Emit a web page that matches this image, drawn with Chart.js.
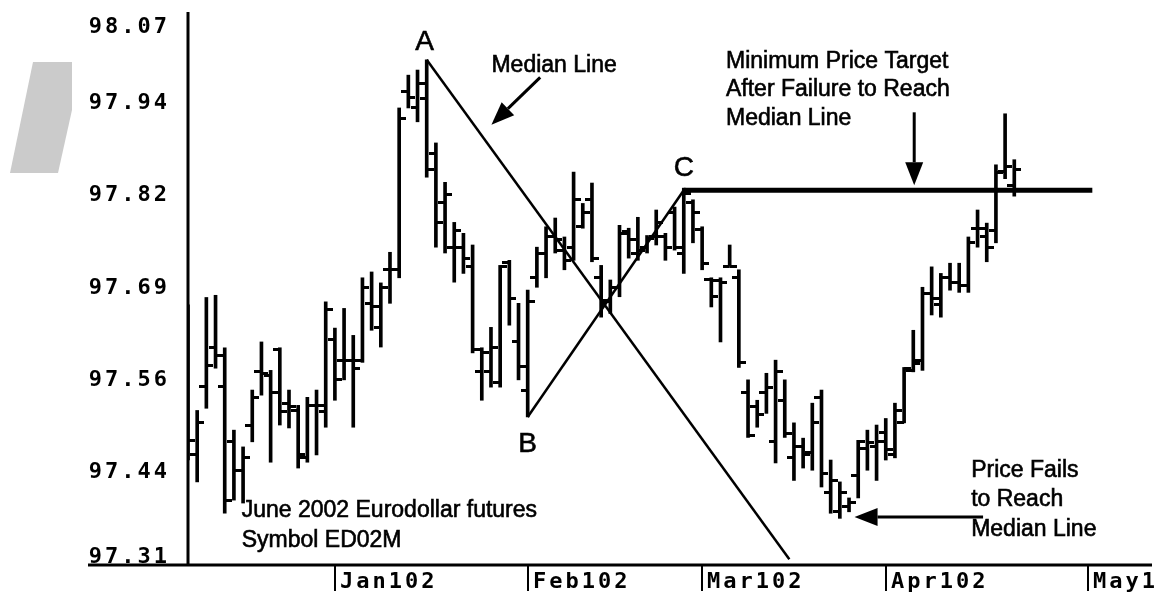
<!DOCTYPE html>
<html>
<head>
<meta charset="utf-8">
<script src="https://cdn.jsdelivr.net/npm/chart.js@4.4.1/dist/chart.umd.min.js"></script>
<style>
  html, body { margin: 0; padding: 0; background: #fff; }
</style>
</head>
<body>
<canvas id="edChart" width="1157" height="595"></canvas>
<script>
// June 2002 Eurodollar futures, daily bars from mid Dec 2001 (index = trading day)
const opens = [
  97.632, 97.461, 97.555, 97.608, 97.555, 97.479, 97.440, 97.502, 97.575, 97.570,
  97.605, 97.532, 97.522, 97.458, 97.529, 97.520, 97.619, 97.591, 97.591, 97.590,
  97.669, 97.636, 97.715, 97.715, 97.960, 97.938, 97.950, 97.875, 97.807, 97.746,
  97.745, 97.719, 97.575, 97.575, 97.561, 97.725, 97.616, 97.550, 97.704, 97.738,
  97.760, 97.742, 97.746, 97.774, 97.811, 97.704, 97.671, 97.691, 97.767, 97.738,
  97.746, 97.760, 97.760, 97.794, 97.738, 97.807, 97.770, 97.701, 97.700, 97.720,
  97.704, 97.546, 97.527, 97.547, 97.479, 97.536, 97.458, 97.472, 97.464, 97.540,
  97.409, 97.383, 97.390, 97.433, 97.470, 97.472, 97.492, 97.461, 97.506, 97.577,
  97.591, 97.683, 97.667, 97.704, 97.697, 97.694, 97.772, 97.760, 97.769, 97.850,
  97.831
];
const highs = [
  97.667, 97.522, 97.677, 97.680, 97.608, 97.495, 97.472, 97.550, 97.616, 97.577,
  97.608, 97.550, 97.529, 97.540, 97.550, 97.671, 97.635, 97.662, 97.625, 97.704,
  97.712, 97.697, 97.739, 97.937, 97.982, 97.989, 98.003, 97.889, 97.835, 97.780,
  97.765, 97.749, 97.608, 97.636, 97.721, 97.728, 97.669, 97.687, 97.746, 97.774,
  97.786, 97.760, 97.849, 97.806, 97.834, 97.721, 97.701, 97.776, 97.772, 97.787,
  97.762, 97.797, 97.765, 97.801, 97.827, 97.811, 97.774, 97.704, 97.704, 97.749,
  97.715, 97.564, 97.536, 97.573, 97.591, 97.564, 97.505, 97.484, 97.532, 97.550,
  97.454, 97.424, 97.402, 97.481, 97.495, 97.502, 97.511, 97.532, 97.581, 97.632,
  97.691, 97.719, 97.710, 97.724, 97.724, 97.760, 97.797, 97.779, 97.859, 97.929,
  97.866
];
const lows = [
  97.454, 97.424, 97.525, 97.580, 97.381, 97.399, 97.395, 97.479, 97.543, 97.451,
  97.502, 97.498, 97.443, 97.451, 97.461, 97.499, 97.536, 97.564, 97.499, 97.588,
  97.632, 97.609, 97.669, 97.704, 97.937, 97.918, 97.842, 97.746, 97.738, 97.698,
  97.710, 97.601, 97.536, 97.554, 97.554, 97.639, 97.564, 97.513, 97.691, 97.704,
  97.738, 97.715, 97.728, 97.772, 97.726, 97.650, 97.655, 97.678, 97.731, 97.728,
  97.738, 97.749, 97.728, 97.742, 97.710, 97.752, 97.715, 97.664, 97.616, 97.720,
  97.581, 97.485, 97.499, 97.518, 97.450, 97.485, 97.426, 97.443, 97.440, 97.417,
  97.381, 97.374, 97.383, 97.402, 97.440, 97.426, 97.454, 97.457, 97.505, 97.575,
  97.577, 97.653, 97.650, 97.687, 97.684, 97.684, 97.746, 97.726, 97.752, 97.840,
  97.816
];
const closes = [
  97.481, 97.505, 97.583, 97.597, 97.399, 97.440, 97.458, 97.540, 97.573, 97.547,
  97.520, 97.527, 97.461, 97.529, 97.529, 97.660, 97.564, 97.591, 97.580, 97.691,
  97.664, 97.691, 97.715, 97.923, 97.952, 97.971, 97.852, 97.780, 97.818, 97.769,
  97.731, 97.605, 97.601, 97.608, 97.719, 97.676, 97.582, 97.671, 97.738, 97.760,
  97.756, 97.728, 97.811, 97.793, 97.731, 97.673, 97.691, 97.765, 97.756, 97.742,
  97.758, 97.780, 97.746, 97.746, 97.820, 97.793, 97.724, 97.678, 97.698, 97.720,
  97.588, 97.488, 97.516, 97.554, 97.575, 97.491, 97.472, 97.461, 97.506, 97.436,
  97.426, 97.409, 97.396, 97.479, 97.478, 97.480, 97.468, 97.522, 97.580, 97.587,
  97.683, 97.676, 97.705, 97.698, 97.694, 97.752, 97.772, 97.746, 97.848, 97.857,
  97.852
];

const monthStarts = [16, 37, 56, 76, 98];
const monthLabels = ['Jan102', 'Feb102', 'Mar102', 'Apr102', 'May102'];
const yTickValues = [97.31, 97.4367, 97.5633, 97.69, 97.8167, 97.9433, 98.07];
const yTickLabels = ['97.31', '97.44', '97.56', '97.69', '97.82', '97.94', '98.07'];

// pitchfork pivots (bar index, price)
const pivotA = {x: 26, y: 98.003};
const pivotB = {x: 37, y: 97.513};
const pivotC = {x: 54, y: 97.824};
const medianEnd = {x: 65.5, y: 97.318};
const targetEnd = {x: 98.5, y: 97.824};

// notes: [text, x, y] in bar index / price, left aligned
const notes = [
  ['Median Line', 33.05, 97.995],
  ['Minimum Price Target', 58.6, 98.001],
  ['After Failure to Reach', 58.6, 97.962],
  ['Median Line', 58.6, 97.922],
  ['Price Fails', 85.3, 97.440],
  ['to Reach', 85.3, 97.399],
  ['Median Line', 85.3, 97.358],
  ['June 2002 Eurodollar futures', 5.85, 97.385],
  ['Symbol ED02M', 5.85, 97.344]
];
// arrows: from -> tip
const arrows = [
  [{x: 38.36, y: 97.979}, {x: 33.05, y: 97.914}],
  [{x: 79.1, y: 97.931}, {x: 79.1, y: 97.831}],
  [{x: 86.6, y: 97.376}, {x: 72.6, y: 97.376}]
];

function tickImage(side) {
  const c = document.createElement('canvas');
  c.width = 14; c.height = 3;
  const g = c.getContext('2d');
  g.fillStyle = '#000';
  g.fillRect(side === 'left' ? 0 : 7, 0, 7, 3);
  return c;
}

const monoFont = 'bold 22px "DejaVu Sans Mono"';
const noteFont = '23px "Liberation Sans", Arial, sans-serif';

function inkText(ctx, text, x, y) {
  ctx.fillText(text, x, y);
  ctx.strokeText(text, x, y);
}

const paperPlugin = {
  id: 'paper',
  beforeDraw(chart) {
    const ctx = chart.ctx;
    ctx.save();
    ctx.fillStyle = '#fff';
    ctx.fillRect(0, 0, chart.width, chart.height);
    // faded logo remnant at the left
    ctx.fillStyle = '#cbcbcb';
    ctx.beginPath();
    ctx.moveTo(10, 173); ctx.lineTo(33, 62); ctx.lineTo(72, 62);
    ctx.lineTo(72, 110); ctx.lineTo(58, 173);
    ctx.closePath();
    ctx.fill();
    ctx.restore();
  },
  afterDatasetsDraw(chart) {
    const ctx = chart.ctx;
    const xs = chart.scales.x, ys = chart.scales.y;
    const px = v => xs.getPixelForValue(v);
    const py = v => ys.getPixelForValue(v);
    ctx.save();
    ctx.fillStyle = '#000';
    ctx.strokeStyle = '#000';
    ctx.lineWidth = 0.6;

    // pivot letters
    ctx.font = '28px "Liberation Sans", Arial, sans-serif';
    ctx.textAlign = 'center';
    ctx.textBaseline = 'middle';
    inkText(ctx, 'A', px(pivotA.x) - 2, py(pivotA.y) - 18);
    inkText(ctx, 'B', px(pivotB.x), py(pivotB.y) + 27);
    inkText(ctx, 'C', px(pivotC.x), py(pivotC.y) - 22);

    ctx.font = noteFont;
    ctx.textAlign = 'left';
    notes.forEach(n => inkText(ctx, n[0], px(n[1]), py(n[2])));

    ctx.lineWidth = 3;
    arrows.forEach(a => {
      const x1 = px(a[0].x), y1 = py(a[0].y), x2 = px(a[1].x), y2 = py(a[1].y);
      const ang = Math.atan2(y2 - y1, x2 - x1);
      const len = 23, half = 9;
      const bx = x2 - len * Math.cos(ang), by = y2 - len * Math.sin(ang);
      ctx.beginPath();
      ctx.moveTo(x1, y1); ctx.lineTo(bx, by);
      ctx.stroke();
      ctx.beginPath();
      ctx.moveTo(x2, y2);
      ctx.lineTo(bx + half * Math.sin(ang), by - half * Math.cos(ang));
      ctx.lineTo(bx - half * Math.sin(ang), by + half * Math.cos(ang));
      ctx.closePath();
      ctx.fill();
    });
    ctx.restore();
  },
  afterDraw(chart) {
    const ctx = chart.ctx;
    const {left, right, top, bottom} = chart.chartArea;
    const xs = chart.scales.x, ys = chart.scales.y;
    ctx.save();
    ctx.strokeStyle = '#000';
    ctx.fillStyle = '#000';
    ctx.lineWidth = 3;
    ctx.beginPath(); ctx.moveTo(left, top + 1); ctx.lineTo(left, bottom); ctx.stroke();
    ctx.beginPath(); ctx.moveTo(88, bottom); ctx.lineTo(right, bottom); ctx.stroke();

    ctx.font = monoFont;
    ctx.letterSpacing = '3px';
    ctx.textAlign = 'right';
    ctx.textBaseline = 'middle';
    yTickValues.forEach((v, i) => {
      const y = Math.min(Math.max(ys.getPixelForValue(v), top + 16), bottom - 8);
      ctx.fillText(yTickLabels[i], left - 18, y);
    });

    ctx.textAlign = 'left';
    ctx.lineWidth = 2;
    monthStarts.forEach((v, i) => {
      const x = Math.round(xs.getPixelForValue(v));
      ctx.beginPath(); ctx.moveTo(x, bottom); ctx.lineTo(x, bottom + 26); ctx.stroke();
      ctx.fillText(monthLabels[i], x + 5, bottom + 17);
    });
    ctx.restore();
  }
};

const ctx = document.getElementById('edChart').getContext('2d');

new Chart(ctx, {
  type: 'bar',
  data: {
    datasets: [
      {
        type: 'bar',
        data: lows.map((l, i) => ({x: i, y: [l, highs[i]]})),
        backgroundColor: '#000',
        borderWidth: 0,
        barThickness: 3,
        grouped: false,
        order: 3
      },
      {
        type: 'line',
        data: opens.map((o, i) => ({x: i, y: o})),
        showLine: false,
        pointStyle: tickImage('left'),
        pointRadius: 3,
        order: 2
      },
      {
        type: 'line',
        data: closes.map((c, i) => ({x: i, y: c})),
        showLine: false,
        pointStyle: tickImage('right'),
        pointRadius: 3,
        order: 2
      },
      {
        type: 'line',
        data: [pivotA, medianEnd],
        borderColor: '#000',
        borderWidth: 2.5,
        pointRadius: 0,
        order: 1
      },
      {
        type: 'line',
        data: [pivotB, pivotC],
        borderColor: '#000',
        borderWidth: 2.5,
        pointRadius: 0,
        order: 1
      },
      {
        type: 'line',
        data: [pivotC, targetEnd],
        borderColor: '#000',
        borderWidth: 5,
        pointRadius: 0,
        order: 1
      }
    ]
  },
  options: {
    responsive: false,
    animation: false,
    events: [],
    layout: {padding: {top: 11, right: 0, bottom: 0, left: 0}},
    plugins: {
      legend: {display: false},
      tooltip: {enabled: false}
    },
    scales: {
      x: {
        type: 'linear',
        min: 0,
        max: 105,
        offset: false,
        grid: {display: false},
        border: {display: false},
        ticks: {display: false},
        afterFit(scale) { scale.height = 30; }
      },
      y: {
        type: 'linear',
        min: 97.31,
        max: 98.07,
        beginAtZero: false,
        grid: {display: false},
        border: {display: false},
        ticks: {display: false},
        afterFit(scale) { scale.width = 188; }
      }
    }
  },
  plugins: [paperPlugin]
});
</script>
</body>
</html>
